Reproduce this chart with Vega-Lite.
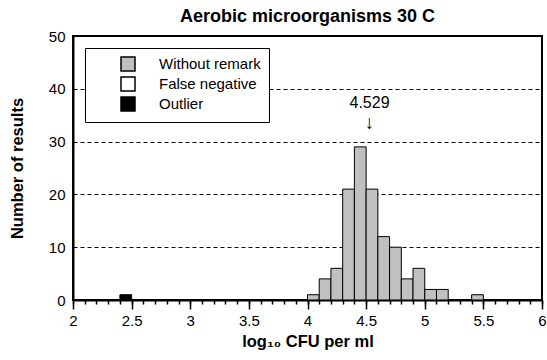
{
  "$schema": "https://vega.github.io/schema/vega-lite/v6.json",
  "width": 469,
  "height": 264,
  "autosize": {"type": "none"},
  "padding": {"left": 73, "top": 36, "right": 5, "bottom": 60},
  "background": "white",
  "config": {
    "font": "Liberation Sans",
    "view": {"stroke": "black", "strokeWidth": 2}
  },
  "title": {
    "text": "Aerobic microorganisms 30 C",
    "fontSize": 18,
    "fontWeight": "bold",
    "font": "Liberation Sans",
    "color": "black",
    "offset": 3
  },
  "resolve": {"axis": {"x": "independent"}},
  "layer": [
    {
      "data": {
        "values": [
          {"bin_start": 2.4, "bin_end": 2.5, "count": 1, "category": "Outlier"},
          {"bin_start": 4.0, "bin_end": 4.1, "count": 1, "category": "Without remark"},
          {"bin_start": 4.1, "bin_end": 4.2, "count": 4, "category": "Without remark"},
          {"bin_start": 4.2, "bin_end": 4.3, "count": 6, "category": "Without remark"},
          {"bin_start": 4.3, "bin_end": 4.4, "count": 21, "category": "Without remark"},
          {"bin_start": 4.4, "bin_end": 4.5, "count": 29, "category": "Without remark"},
          {"bin_start": 4.5, "bin_end": 4.6, "count": 21, "category": "Without remark"},
          {"bin_start": 4.6, "bin_end": 4.7, "count": 12, "category": "Without remark"},
          {"bin_start": 4.7, "bin_end": 4.8, "count": 10, "category": "Without remark"},
          {"bin_start": 4.8, "bin_end": 4.9, "count": 4, "category": "Without remark"},
          {"bin_start": 4.9, "bin_end": 5.0, "count": 6, "category": "Without remark"},
          {"bin_start": 5.0, "bin_end": 5.1, "count": 2, "category": "Without remark"},
          {"bin_start": 5.1, "bin_end": 5.2, "count": 2, "category": "Without remark"},
          {"bin_start": 5.4, "bin_end": 5.5, "count": 1, "category": "Without remark"}
        ]
      },
      "mark": {"type": "rect", "stroke": "black", "strokeWidth": 1},
      "encoding": {
        "x": {
          "field": "bin_start",
          "type": "quantitative",
          "scale": {"domain": [2, 6], "nice": false, "zero": false},
          "axis": {
            "orient": "bottom",
            "title": "log₁₀ CFU per ml",
            "titleFontSize": 16.5,
            "titleFontWeight": "bold",
            "titleColor": "black",
            "titleFont": "Liberation Sans",
            "titlePadding": 5,
            "values": [2, 2.5, 3, 3.5, 4, 4.5, 5, 5.5, 6],
            "format": "~g",
            "tickSize": 9,
            "tickColor": "black",
            "tickWidth": 1.5,
            "domainColor": "black",
            "domainWidth": 2,
            "labelFontSize": 15,
            "labelColor": "black",
            "labelFont": "Liberation Sans",
            "labelPadding": 4,
            "labelOverlap": false,
            "labelFlush": false,
            "grid": false
          }
        },
        "x2": {"field": "bin_end"},
        "y": {
          "field": "count",
          "type": "quantitative",
          "scale": {"domain": [0, 50], "nice": false},
          "axis": {
            "title": "Number of results",
            "titleFontSize": 16.5,
            "titleFontWeight": "bold",
            "titleColor": "black",
            "titleFont": "Liberation Sans",
            "titlePadding": 23,
            "values": [0, 10, 20, 30, 40, 50],
            "ticks": false,
            "domainColor": "black",
            "domainWidth": 2,
            "labelFontSize": 15,
            "labelColor": "black",
            "labelFont": "Liberation Sans",
            "labelPadding": 8,
            "grid": true,
            "gridColor": "black",
            "gridDash": [4, 3],
            "gridWidth": 1,
            "gridOpacity": {"condition": {"test": "datum.value == 0 || datum.value == 50", "value": 0}, "value": 1}
          }
        },
        "y2": {"datum": 0},
        "fill": {
          "field": "category",
          "type": "nominal",
          "scale": {
            "domain": ["Without remark", "False negative", "Outlier"],
            "range": ["#c0c0c0", "#ffffff", "#000000"]
          },
          "legend": {
            "title": null,
            "orient": "none",
            "legendX": 12,
            "legendY": 12,
            "strokeColor": "black",
            "fillColor": "white",
            "padding": 8,
            "symbolType": "square",
            "symbolSize": 196,
            "symbolStrokeColor": "black",
            "symbolStrokeWidth": 1.5,
            "symbolOffset": 27,
            "labelOffset": 23,
            "labelFontSize": 15,
            "labelFont": "Liberation Sans",
            "labelColor": "black",
            "rowPadding": 0
          }
        }
      }
    },
    {
      "data": {
        "values": [
          {"x": 4.529, "y": 37.4, "label": "4.529"}
        ]
      },
      "mark": {"type": "text", "fontSize": 16, "font": "Liberation Sans", "color": "black", "baseline": "middle"},
      "encoding": {
        "x": {
          "field": "x",
          "type": "quantitative",
          "axis": {
            "orient": "bottom",
            "title": null,
            "values": [2, 2.1, 2.2, 2.3, 2.4, 2.5, 2.6, 2.7, 2.8, 2.9, 3, 3.1, 3.2, 3.3, 3.4, 3.5, 3.6, 3.7, 3.8, 3.9, 4, 4.1, 4.2, 4.3, 4.4, 4.5, 4.6, 4.7, 4.8, 4.9, 5, 5.1, 5.2, 5.3, 5.4, 5.5, 5.6, 5.7, 5.8, 5.9, 6],
            "labels": false,
            "domain": false,
            "grid": false,
            "tickSize": 4,
            "tickColor": "black",
            "tickWidth": 1.5
          }
        },
        "y": {"field": "y", "type": "quantitative"},
        "text": {"field": "label"}
      }
    },
    {
      "data": {
        "values": [
          {"x": 4.529, "y": 33.6, "label": "↓"}
        ]
      },
      "mark": {"type": "text", "fontSize": 19, "font": "Liberation Sans", "color": "black", "baseline": "middle"},
      "encoding": {
        "x": {"field": "x", "type": "quantitative", "axis": null},
        "y": {"field": "y", "type": "quantitative"},
        "text": {"field": "label"}
      }
    }
  ]
}
